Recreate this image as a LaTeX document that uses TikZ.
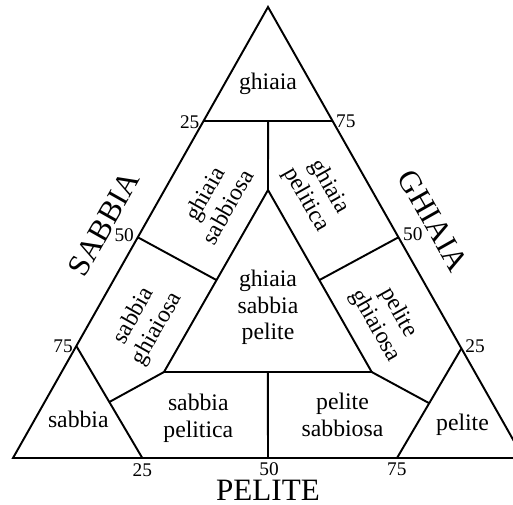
\documentclass[tikz,border=0pt]{standalone}
\usepackage{fontspec}
\setmainfont{Liberation Serif}
\usetikzlibrary{calc}

\begin{document}
\begin{tikzpicture}[x=0.02cm, y=-0.02cm, line width=1.1pt,
        zona/.style={font=\fontsize{13.5}{15.1}\selectfont, align=center, inner sep=0pt},
        tacca/.style={font=\fontsize{11}{13}\selectfont, inner sep=0pt, anchor=base},
        asse/.style={font=\fontsize{17.7}{20}\selectfont, inner sep=0pt}]
                \clip (0,0) rectangle (513,504);

                % vertici del triangolo
                \coordinate (S) at (13,458);
                \coordinate (P) at (523.5,458);
                \coordinate (G) at (268,7);

                % tacche sui lati
                \coordinate (L25) at ($(G)!0.2528!(S)$);
                \coordinate (L50) at ($(G)!0.5106!(S)$);
                \coordinate (L75) at ($(G)!0.7517!(S)$);
                \coordinate (R75) at ($(G)!0.2528!(P)$);
                \coordinate (R50) at ($(G)!0.5106!(P)$);
                \coordinate (R25) at ($(G)!0.757!(P)$);
                \coordinate (B25) at (142.3,458);
                \coordinate (B50) at (268,458);
                \coordinate (B75) at (397,458);

                % triangolo interno
                \coordinate (It) at (268,190);
                \coordinate (Il) at (164,372);
                \coordinate (Ir) at (371.7,372);

                % triangolo esterno
                \draw (S) -- (P) -- (G) -- cycle;

                % linea 75% ghiaia
                \draw (L25) -- (R75);
                \draw ($(L25)!0.5!(R75)$) -- (It);
                % triangolo centrale
                \draw (It) -- (Il) -- (Ir) -- cycle;
                \draw (L50) -- ($(It)!0.495!(Il)$);
                \draw (R50) -- ($(It)!0.495!(Ir)$);
                \draw (B50) -- ($(Il)!0.5!(Ir)$);
                % angoli sabbia e pelite
                \draw (L75) -- (B25);
                \draw (R25) -- (B75);
                \draw (Il) -- ($(L75)!0.5!(B25)$);
                \draw (Ir) -- ($(R25)!0.5!(B75)$);

                % campi
                \node[zona, anchor=base] (fGh) at (268,89) {ghiaia};
                \node[zona, rotate=60.5] (fGhS) at (215.8,200) {ghiaia\\sabbiosa};
                \node[zona, rotate=-60.5] (fGhP) at (317.5,193.3) {ghiaia\\pelitica};
                \node[zona, rotate=60.5] (fSGh) at (145.8,322.5) {sabbia\\ghiaiosa};
                \node[zona, rotate=-60.5] (fPGh) at (386.7,319.2) {pelite\\ghiaiosa};
                \node[zona] (fGhSP) at (268,307.5) {ghiaia\\sabbia\\pelite};
                \node[zona] (fSP) at (198.3,418.2) {sabbia\\pelitica};
                \node[zona] (fPS) at (342.5,414.9) {pelite\\sabbiosa};
                \node[zona, anchor=base] (fS) at (78.3,427.7) {sabbia};
                \node[zona, anchor=base] (fP) at (462.5,430.7) {pelite};

                % numeri
                \node[tacca] (tL25) at (189.7,128.3) {25};
                \node[tacca] (tL50) at (124.2,241.7) {50};
                \node[tacca] (tL75) at (63,352.3) {75};
                \node[tacca] (tR75) at (345.8,127.5) {75};
                \node[tacca] (tR50) at (412.8,240) {50};
                \node[tacca] (tR25) at (475,352.3) {25};
                \node[tacca] (tB25) at (142.3,476) {25};
                \node[tacca] (tB50) at (269,475.7) {50};
                \node[tacca] (tB75) at (396.8,475) {75};

                % nomi degli assi
                \node[asse, rotate=60.5] (aS) at (104,224) {SABBIA};
                \node[asse, rotate=-60.5] (aG) at (433,220.8) {GHIAIA};
                \node[asse, anchor=base] (aP) at (268,500) {PELITE};

            \end{tikzpicture}
\end{document}
